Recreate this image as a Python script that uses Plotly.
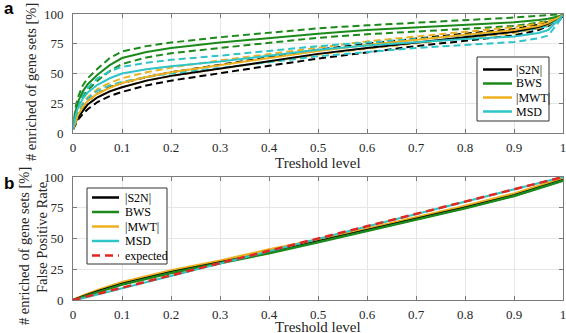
import plotly.graph_objects as go

# ---------------- data ----------------
# Panel a: threshold level vs % enriched gene sets (solid = mean, dashed = bounds)
thr_a = [0, 0.005, 0.01, 0.02, 0.03, 0.05, 0.075, 0.1, 0.15, 0.2, 0.3, 0.4, 0.5,
         0.6, 0.7, 0.8, 0.9, 0.95, 0.97, 1.0]

s2n_mean = [3, 9, 13, 19, 24, 30, 35, 38.5, 44, 48, 54, 60, 66.5, 71.5, 76, 80.5, 85, 89, 92, 99]
s2n_hi   = [3, 10, 15, 22, 27, 33, 38.5, 42, 47, 51, 57.5, 63.5, 70, 75, 79.5, 83.5, 87.5, 91, 93.5, 100]
s2n_lo   = [3, 7, 11, 16, 20, 26, 31, 34.5, 40, 44, 50.5, 56.5, 62.5, 68, 73, 77.5, 82, 86.5, 90, 98]

bws_mean = [3, 18, 26, 35, 41, 49, 57, 63, 68, 71.5, 76, 80, 83.5, 86.5, 88.5, 90.5, 93, 95, 96, 99]
bws_hi   = [3, 21, 30, 40, 46, 54, 63, 68.5, 73, 76, 80.5, 84.5, 88, 90.5, 92.5, 94.5, 97, 98.5, 99, 100]
bws_lo   = [3, 15, 22, 30, 36, 44, 52, 58, 63.5, 67, 71.5, 76, 80, 83, 85, 87.5, 90, 92.5, 94, 99]

mwt_mean = [3, 10, 15, 22, 27, 33, 38, 42, 47, 51, 57, 63, 69, 74, 78.5, 82.5, 86.5, 90, 92.5, 99]
mwt_hi   = [3, 12, 17, 25, 30, 37, 42, 46, 51, 55, 61, 66.5, 72, 77, 81, 85, 89, 92, 94, 100]
mwt_lo   = [3, 8, 13, 19, 24, 30, 35, 38.5, 44, 48, 54, 60, 66, 71, 75.5, 80, 84, 88, 91, 98]

msd_mean = [3, 14, 21, 29, 34, 40.5, 46, 50, 53.5, 56, 60, 65, 70, 73.5, 76.5, 79, 81, 84, 86.5, 99]
msd_hi   = [3, 16, 24, 33, 38, 46, 52, 55.5, 59, 61.5, 65, 69, 73, 76, 79, 82, 85, 88, 90, 100]
msd_lo   = [3, 11, 17, 24, 29, 35.5, 40, 43, 47, 50, 54.5, 59.5, 64.5, 68, 71.5, 74, 76.5, 79.5, 82, 98]

# Panel b: false positive rate
thr_b = [0, 0.02, 0.05, 0.1, 0.2, 0.3, 0.4, 0.5, 0.6, 0.7, 0.8, 0.9, 0.95, 1.0]
fpr_s2n = [0, 3, 7, 13, 22.5, 30.5, 38.5, 47.5, 56.5, 65.5, 75, 85, 91, 97.5]
fpr_bws = [0, 2.5, 6.5, 12.5, 22, 30, 38, 47, 56, 65, 74.5, 84.5, 90.5, 97]
fpr_mwt = [0, 3.5, 8, 14.5, 24, 32, 41, 49, 58, 67, 76.5, 86.5, 92.5, 99]
fpr_msd = [0, 1.5, 4.5, 9.5, 19.5, 29.5, 39.5, 49.5, 59.5, 69.5, 79.5, 89.5, 95, 100]
fpr_expected = [0, 2, 5, 10, 20, 30, 40, 50, 60, 70, 80, 90, 95, 100]

x_ticks = [0, 0.1, 0.2, 0.3, 0.4, 0.5, 0.6, 0.7, 0.8, 0.9, 1]
x_tick_labels = ["0", "0.1", "0.2", "0.3", "0.4", "0.5", "0.6", "0.7", "0.8", "0.9", "1"]
y_ticks = [0, 25, 50, 75, 100]

names = ["|S2N|", "BWS", "|MWT|", "MSD"]
colors = ["#000000", "#1b8a1b", "#edb120", "#2ec4c8"]
red = "#e3261f"

# ---------------- figure ----------------
W, H = 566, 333
SERIF = "Liberation Serif, Times New Roman, Times, serif"
DASH = "7px,4px"
RED_DASH = "8px,5px"
fig = go.Figure()

top_sets = [(s2n_mean, s2n_hi, s2n_lo), (bws_mean, bws_hi, bws_lo),
            (mwt_mean, mwt_hi, mwt_lo), (msd_mean, msd_hi, msd_lo)]

for (mean, hi, lo), c in zip(top_sets, colors):
    for band in (hi, lo):
        fig.add_trace(go.Scatter(x=thr_a, y=band, mode="lines", showlegend=False,
                                 line=dict(color=c, width=2, dash=DASH),
                                 xaxis="x", yaxis="y", hoverinfo="skip"))
for (mean, hi, lo), c, n in zip(top_sets, colors, names):
    fig.add_trace(go.Scatter(x=thr_a, y=mean, mode="lines", name=n, showlegend=False,
                             line=dict(color=c, width=2), xaxis="x", yaxis="y"))

bottom_sets = [fpr_s2n, fpr_bws, fpr_mwt, fpr_msd]
for i in [2, 0, 1, 3]:
    fig.add_trace(go.Scatter(x=thr_b, y=bottom_sets[i], mode="lines", name=names[i],
                             showlegend=False,
                             line=dict(color=colors[i], width=2.5 if i != 3 else 2),
                             xaxis="x2", yaxis="y2"))
fig.add_trace(go.Scatter(x=thr_b, y=fpr_expected, mode="lines", name="expected",
                         showlegend=False,
                         line=dict(color=red, width=2.5, dash=RED_DASH),
                         xaxis="x2", yaxis="y2"))

x0, x1 = 73 / W, 563 / W
top_dom = [1 - 133 / H, 1 - 14 / H]
bot_dom = [1 - 300 / H, 1 - 177 / H]

tick_font = dict(family=SERIF, size=13, color="#262626")
axis_common = dict(showline=True, linecolor="#7a7a7a", linewidth=1, mirror="ticks",
                   ticks="inside", ticklen=4, tickcolor="#7a7a7a",
                   showgrid=True, gridcolor="#e6e6e6", gridwidth=1, zeroline=False,
                   tickfont=tick_font, automargin=False, ticklabeloverflow="allow")

fig.update_layout(
    width=W, height=H,
    margin=dict(l=0, r=0, t=0, b=0),
    paper_bgcolor="white", plot_bgcolor="white",
    showlegend=False,
    xaxis=dict(domain=[x0, x1], anchor="y", range=[0, 1], tickvals=x_ticks,
               ticktext=x_tick_labels, ticklabelstandoff=2, **axis_common),
    yaxis=dict(domain=top_dom, anchor="x", range=[0, 100], tickvals=y_ticks,
               ticklabelstandoff=6, **axis_common),
    xaxis2=dict(domain=[x0, x1], anchor="y2", range=[0, 1], tickvals=x_ticks,
                ticktext=x_tick_labels, ticklabelstandoff=2, **axis_common),
    yaxis2=dict(domain=bot_dom, anchor="x2", range=[0, 100], tickvals=y_ticks,
                ticklabelstandoff=6, **axis_common),
)

def px(xp):
    return xp / W

def py(yp):
    return 1 - yp / H

shapes = []
annotations = []

# legend boxes (drawn as plain shapes to match the compact MATLAB legend)
def add_legend(box, entries, line_x, text_x, ys):
    bx0, by0, bx1, by1 = box
    shapes.append(dict(type="rect", xref="paper", yref="paper",
                       x0=px(bx0), x1=px(bx1), y0=py(by1), y1=py(by0),
                       line=dict(color="#333333", width=1), fillcolor="white", layer="above"))
    for (label, color, dash, width), yy in zip(entries, ys):
        shapes.append(dict(type="line", xref="paper", yref="paper",
                           x0=px(line_x[0]), x1=px(line_x[1]), y0=py(yy), y1=py(yy),
                           line=dict(color=color, width=width, dash=dash), layer="above"))
        annotations.append(dict(text=label, x=px(text_x), y=py(yy), xref="paper", yref="paper",
                                showarrow=False, xanchor="left", yanchor="middle",
                                font=dict(family=SERIF, size=12, color="#000000")))

add_legend((477, 57, 549, 121),
           [(n, c, "solid", 2.5) for n, c in zip(names, colors)],
           (483, 512), 514, [69.5, 83.5, 97.5, 111.5])
add_legend((87, 188, 167, 264),
           [(n, c, "solid", 2.5) for n, c in zip(names, colors)] + [("expected", red, RED_DASH, 2.5)],
           (92, 119), 123, [197.5, 212, 226.5, 241, 255.5])

title_font = dict(family=SERIF, size=15, color="#262626")
ytitle_font = dict(family=SERIF, size=14.5, color="#262626")
annotations += [
    dict(text="Treshold level", x=(x0 + x1) / 2, y=py(162.5), xref="paper", yref="paper",
         showarrow=False, font=title_font, xanchor="center", yanchor="middle"),
    dict(text="Treshold level", x=(x0 + x1) / 2, y=py(327), xref="paper", yref="paper",
         showarrow=False, font=title_font, xanchor="center", yanchor="middle"),
    dict(text="# enriched of gene sets [%]", x=px(31), y=py(82), xref="paper", yref="paper",
         showarrow=False, font=ytitle_font, textangle=-90, xanchor="center", yanchor="middle"),
    dict(text="# enriched of gene sets [%]", x=px(24), y=py(246), xref="paper", yref="paper",
         showarrow=False, font=ytitle_font, textangle=-90, xanchor="center", yanchor="middle"),
    dict(text="False Positive Rate", x=px(42), y=py(238), xref="paper", yref="paper",
         showarrow=False, font=ytitle_font, textangle=-90, xanchor="center", yanchor="middle"),
    dict(text="<b>a</b>", x=px(2), y=py(9), xref="paper", yref="paper", showarrow=False,
         font=dict(family="Liberation Sans, Arial, sans-serif", size=17, color="#000000"),
         xanchor="left", yanchor="middle"),
    dict(text="<b>b</b>", x=px(2), y=py(183), xref="paper", yref="paper", showarrow=False,
         font=dict(family="Liberation Sans, Arial, sans-serif", size=17, color="#000000"),
         xanchor="left", yanchor="middle"),
]
fig.update_layout(shapes=shapes, annotations=annotations)

fig.write_html("out.html", config={"displayModeBar": False},
               post_script="document.body.style.margin='0';document.body.style.padding='0';")
